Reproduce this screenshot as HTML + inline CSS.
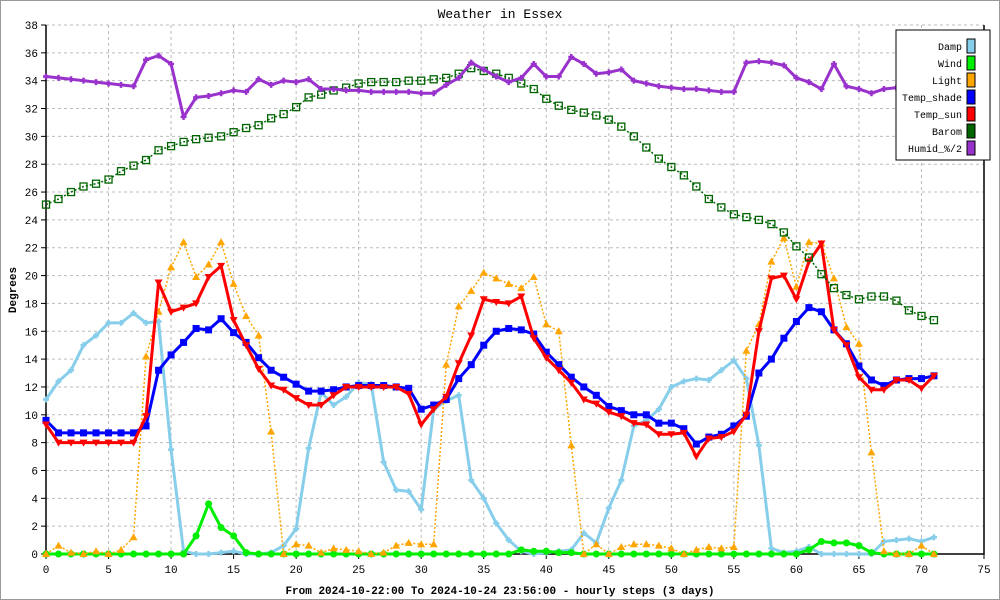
<!DOCTYPE html>
<html><head><meta charset="utf-8"><style>
body{margin:0;background:#fff}
svg{display:block;font-family:"Liberation Mono",monospace}
</style></head><body>
<svg id="chart" width="1000" height="600">
<rect x="0.5" y="0.5" width="999" height="599" fill="#fff" stroke="#999"/>
<text x="500" y="18" text-anchor="middle" font-size="13">Weather in Essex</text>
<text x="500" y="594" text-anchor="middle" font-size="11" font-weight="bold">From 2024-10-22:00 To 2024-10-24 23:56:00 - hourly steps (3 days)</text>
<text transform="translate(16,290) rotate(-90)" text-anchor="middle" font-size="11" font-weight="bold">Degrees</text>
<g id="grid"></g><g id="series"></g><g id="legend"></g>
</svg>
<script>
const xTicks=[0,5,10,15,20,25,30,35,40,45,50,55,60,65,70,75];
const yTicks=[0,2,4,6,8,10,12,14,16,18,20,22,24,26,28,30,32,34,36,38];
const seriesNames=["Damp","Wind","Light","Temp_shade","Temp_sun","Barom","Humid_%/2"];
const damp=[11.1,12.4,13.2,15,15.7,16.6,16.6,17.3,16.6,16.7,7.5,0.2,0,0,0.1,0.2,0,0,0.1,0.6,1.8,7.6,11.6,10.7,11.3,12.3,12.2,6.6,4.6,4.5,3.2,10.4,11,11.4,5.3,4,2.2,1,0.2,0,0.1,0.2,0.3,1.5,0.8,3.3,5.3,9.2,9.6,10.4,12,12.4,12.6,12.5,13.2,13.9,12.6,7.8,0.4,0.1,0.2,0.5,0,0,0,0,0,0.9,1,1.1,0.9,1.2];
const wind=[0,0,0,0,0,0,0,0,0,0,0,0,1.3,3.6,1.9,1.3,0.1,0,0,0,0,0,0,0,0,0,0,0,0,0,0,0,0,0,0,0,0,0,0.3,0.2,0.2,0.1,0.1,0,0,0,0,0,0,0,0,0,0,0,0,0,0,0,0,0,0,0.3,0.9,0.8,0.8,0.6,0.1,0,0,0,0,0];
const light=[0,0.6,0.1,0,0.2,0,0.3,1.2,14.2,17.4,20.6,22.4,19.9,20.8,22.4,19.4,17.1,15.7,8.8,0,0.7,0.6,0.1,0.4,0.3,0.2,0,0.1,0.6,0.8,0.7,0.7,13.6,17.8,18.9,20.2,19.8,19.4,19.1,19.9,16.5,16,7.8,0,0.7,0,0.5,0.7,0.7,0.6,0.4,0,0.3,0.5,0.4,0.5,14.6,16.5,21,22.7,19.2,22.4,22.3,19.8,16.3,15.1,7.3,0.2,0,0,0.6,0];
const tempShade=[9.6,8.7,8.7,8.7,8.7,8.7,8.7,8.7,9.2,13.2,14.3,15.2,16.2,16.1,16.9,15.9,15.2,14.1,13.2,12.7,12.2,11.7,11.7,11.8,12,12.1,12.1,12.1,12,11.9,10.4,10.7,11.1,12.6,13.6,15,16,16.2,16.1,15.8,14.5,13.6,12.7,12,11.4,10.6,10.3,10,10,9.4,9.4,9.0,7.9,8.4,8.6,9.2,9.9,13,14,15.5,16.7,17.7,17.4,16.1,15.1,13.5,12.5,12.1,12.5,12.6,12.6,12.8];
const tempSun=[9.3,8,8,8,8,8,8,8,9.9,19.5,17.4,17.7,18,19.9,20.7,16.8,15,13.3,12.1,11.8,11.2,10.7,10.7,11.4,12,12,12,12,12,11.5,9.3,10.4,11.3,13.7,15.7,18.3,18.1,18,18.5,15.5,14.1,13.2,12.3,11.1,10.8,10.2,9.9,9.4,9.3,8.6,8.6,8.7,7,8.3,8.4,8.8,10,16,19.8,20,18.3,21,22.3,16.1,15,12.7,11.8,11.8,12.5,12.5,11.9,12.8];
const barom=[25.1,25.5,26,26.4,26.6,26.9,27.5,27.9,28.3,29,29.3,29.6,29.8,29.9,30,30.3,30.6,30.8,31.3,31.6,32.1,32.8,33,33.3,33.5,33.8,33.9,33.9,33.9,34,34,34.1,34.2,34.5,34.9,34.7,34.5,34.2,33.8,33.4,32.7,32.2,31.9,31.7,31.5,31.2,30.7,30.0,29.2,28.4,27.8,27.2,26.4,25.5,24.9,24.4,24.2,24,23.7,23.1,22.1,21.3,20.1,19.1,18.6,18.3,18.5,18.5,18.2,17.5,17.1,16.8];
const humid=[34.3,34.2,34.1,34,33.9,33.8,33.7,33.6,35.5,35.8,35.2,31.4,32.8,32.9,33.1,33.3,33.2,34.1,33.7,34,33.9,34.1,33.4,33.4,33.3,33.3,33.2,33.2,33.2,33.2,33.1,33.1,33.7,34.2,35.3,34.8,34.3,33.9,34.2,35.2,34.3,34.3,35.7,35.2,34.5,34.6,34.8,34,33.8,33.6,33.5,33.4,33.4,33.3,33.2,33.2,35.3,35.4,35.3,35.1,34.2,33.9,33.4,35.2,33.6,33.4,33.1,33.4,33.5,33.4,33.4,33.4];

const NS="http://www.w3.org/2000/svg";
const X0=46,X1=984,Y0=554,Y1=25;
const xs=v=>X0+(v/75)*(X1-X0);
const ys=v=>Y0-(v/38)*(Y0-Y1);
function mk(tag,attrs,parent){const e=document.createElementNS(NS,tag);for(const k in attrs)e.setAttribute(k,attrs[k]);parent.appendChild(e);return e;}
const grid=document.getElementById('grid');
yTicks.forEach(t=>{
  const y=ys(t);
  if(t>0){const l=mk('line',{x1:X0,x2:X1,y1:y,y2:y,stroke:'#bbb','stroke-dasharray':'3,3'},grid);
  
  }
  const tk=mk('line',{x1:X0-5,x2:X0,y1:y,y2:y,stroke:'#000'},grid);
  
  
  const tx=mk('text',{x:X0-8,y:y+4,'text-anchor':'end','font-size':'11'},grid);
  tx.textContent=t;
  
  
});
xTicks.forEach(t=>{
  const x=xs(t);
  if(t>0&&t<75){const l=mk('line',{x1:x,x2:x,y1:Y1,y2:Y0,stroke:'#bbb','stroke-dasharray':'3,3'},grid);
  
  }
  const tk=mk('line',{x1:x,x2:x,y1:Y0,y2:Y0+5,stroke:'#000'},grid);
  
  
  const tx=mk('text',{x:x,y:Y0+19,'text-anchor':'middle','font-size':'11'},grid);
  tx.textContent=t;
  
  
});
const ax=mk('path',{d:`M${X0},${Y1}V${Y0}H${X1}V${Y1}`,fill:'none',stroke:'#000','stroke-width':1.5},grid);



const cfg=[
 {d:damp,c:'#87ceeb',w:3,dash:null,m:'plus'},
 {d:wind,c:'#00ee00',w:3,dash:null,m:'circle'},
 {d:light,c:'#ffa500',w:1.5,dash:'2,2',m:'tri'},
 {d:tempShade,c:'#0000ff',w:3,dash:null,m:'square'},
 {d:tempSun,c:'#ff0000',w:3,dash:null,m:'tridown'},
 {d:barom,c:'#006400',w:1.5,dash:'2,2',m:'box'},
 {d:humid,c:'#9932cc',w:3,dash:null,m:'plus'}
];
const sg=document.getElementById('series');
function marker(g,type,x,y,c){
  let e;
  if(type==='circle')e=mk('circle',{cx:x,cy:y,r:3.5,fill:c},g);
  else if(type==='tri')e=mk('path',{d:`M${x},${y-4}L${x+4},${y+3}L${x-4},${y+3}Z`,fill:c},g);
  else if(type==='tridown')e=mk('path',{d:`M${x},${y+4}L${x+4},${y-3}L${x-4},${y-3}Z`,fill:c},g);
  else if(type==='square')e=mk('rect',{x:x-3.5,y:y-3.5,width:7,height:7,fill:c},g);
  else if(type==='box')e=mk('rect',{x:x-3.5,y:y-3.5,width:7,height:7,fill:'none',stroke:c,'stroke-width':1.3},g);
  else e=mk('path',{d:`M${x-3},${y}H${x+3}M${x},${y-3}V${y+3}`,stroke:c,'stroke-width':2.5},g);
  
  
}
cfg.forEach((s,si)=>{
  const g=mk('g',{},sg);
  
  
  const pts=s.d.map((v,i)=>xs(i)+','+ys(v)).join(' ');
  const a={points:pts,fill:'none',stroke:s.c,'stroke-width':s.w,'stroke-linejoin':'round'};
  if(s.dash)a['stroke-dasharray']=s.dash;
  const pl=mk('polyline',a,g);
  
  
  s.d.forEach((v,i)=>marker(g,s.m,xs(i),ys(v),s.c));
});
const lg=document.getElementById('legend');
const box=mk('rect',{x:896,y:30,width:94,height:130,fill:'#fff',stroke:'#000'},lg);


seriesNames.forEach((n,i)=>{
  const y=46+i*17;
  const t=mk('text',{x:962,y:y+4,'text-anchor':'end','font-size':'10'},lg);
  t.textContent=n;
  
  
  const r=mk('rect',{x:967,y:y-7,width:8,height:14,fill:cfg[i].c,stroke:'#000'},lg);
  
  
});
</script>
</body></html>
